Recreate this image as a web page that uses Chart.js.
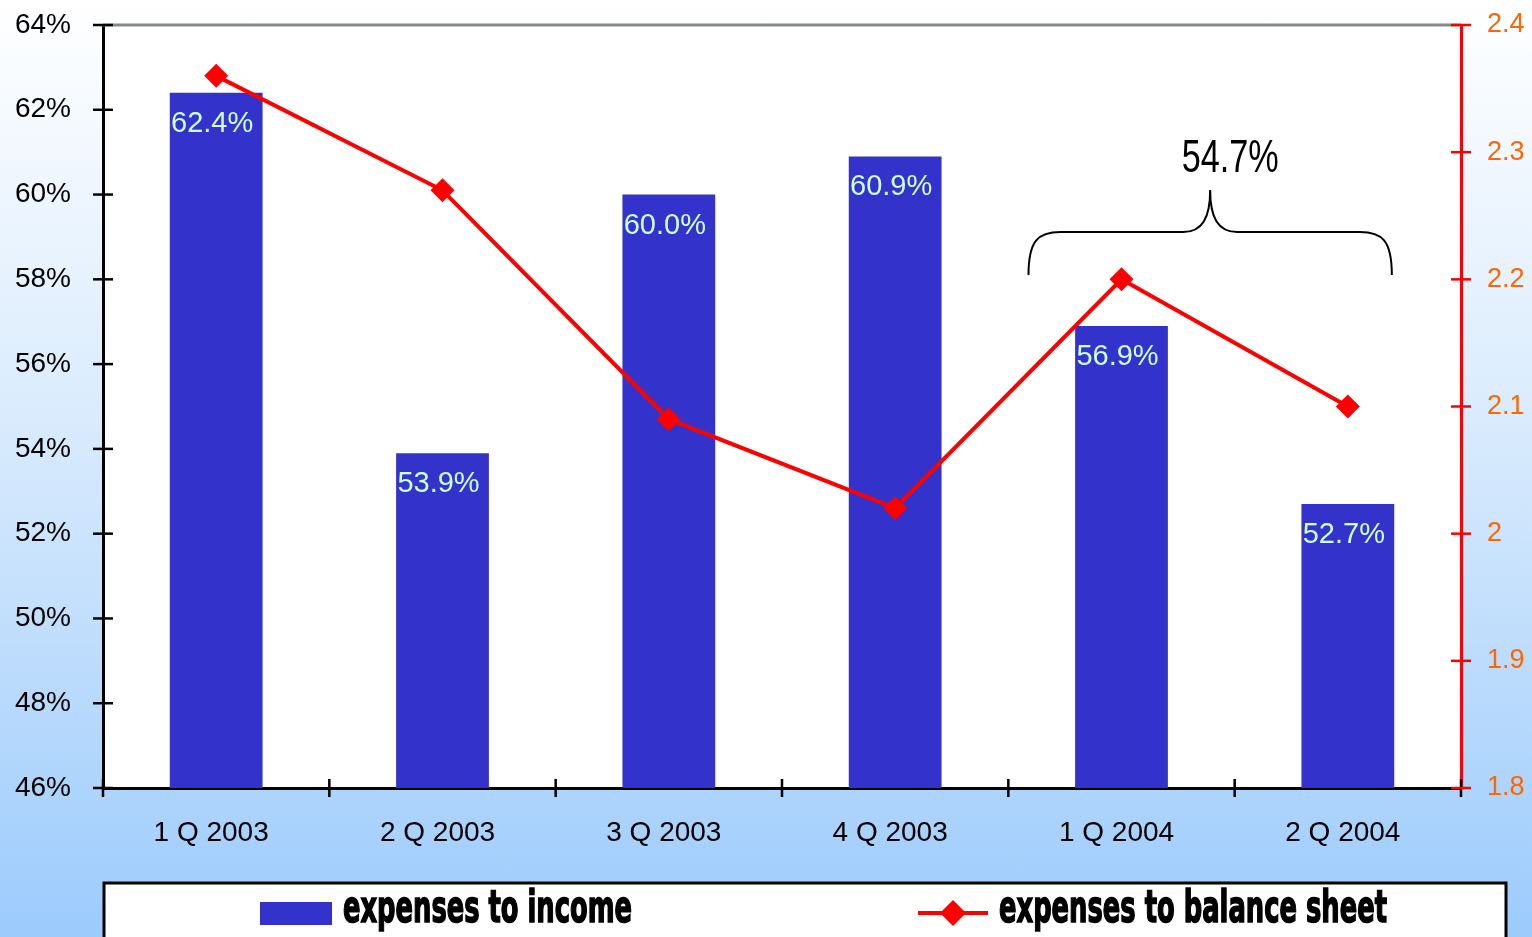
<!DOCTYPE html>
<html>
<head>
<meta charset="utf-8">
<style>
  html, body { margin: 0; padding: 0; overflow: hidden; }
  body { background: linear-gradient(to bottom, #ffffff 0%, #d9ebfd 45%, #9ccbfc 100%); }
  #wrap { position: relative; width: 1532px; height: 937px; }
</style>
</head>
<body>
<div id="wrap"><canvas id="costChart"></canvas></div>

<script src="https://cdn.jsdelivr.net/npm/chart.js"></script>
<script>
(() => {
  const quarters = ['1 Q 2003', '2 Q 2003', '3 Q 2003', '4 Q 2003', '1 Q 2004', '2 Q 2004'];
  const expensesToIncome = [62.4, 53.9, 60.0, 60.9, 56.9, 52.7];
  const expensesToBalance = [2.36, 2.27, 2.09, 2.02, 2.20, 2.10];
  const leftTicks = [46, 48, 50, 52, 54, 56, 58, 60, 62, 64];
  const rightTicks = [1.8, 1.9, 2.0, 2.1, 2.2, 2.3, 2.4];
  const braceText = '54.7%';
  const legendLabels = ['expenses to income', 'expenses to balance sheet'];

  const FONT = '"Liberation Sans", Arial, sans-serif';
  const BAR_BLUE = '#3333cc';
  const LINE_RED = '#ff0000';

  function diamond(ctx, x, y, r) {
    ctx.beginPath();
    ctx.moveTo(x - r, y);
    ctx.lineTo(x, y - r);
    ctx.lineTo(x + r, y);
    ctx.lineTo(x, y + r);
    ctx.closePath();
    ctx.fill();
  }

  function noPadding(scale) {
    scale.paddingTop = 0;
    scale.paddingBottom = 0;
    scale.paddingLeft = 0;
    scale.paddingRight = 0;
  }

  const decorations = {
    id: 'decorations',
    beforeDraw(chart) {
      const { ctx, chartArea: a } = chart;
      ctx.save();
      ctx.fillStyle = '#ffffff';
      ctx.fillRect(a.left, a.top, a.right - a.left, a.bottom - a.top);
      ctx.restore();
    },
    afterDatasetsDraw(chart) {
      const { ctx } = chart;
      const meta = chart.getDatasetMeta(1);
      ctx.save();
      ctx.fillStyle = '#ccffff';
      ctx.font = '29px ' + FONT;
      ctx.textAlign = 'center';
      ctx.textBaseline = 'middle';
      meta.data.forEach((bar, i) => {
        ctx.fillText(expensesToIncome[i].toFixed(1) + '%', bar.x - 4, bar.y + 31);
      });
      ctx.restore();
    },
    afterDraw(chart) {
      const { ctx, chartArea: a, scales } = chart;
      ctx.save();

      // top frame line
      ctx.strokeStyle = '#888888';
      ctx.lineWidth = 3;
      ctx.beginPath();
      ctx.moveTo(a.left, a.top);
      ctx.lineTo(a.right, a.top);
      ctx.stroke();

      // tick marks crossing the axes
      ctx.lineWidth = 2.5;
      ctx.strokeStyle = '#000000';
      leftTicks.forEach(v => {
        const y = scales.y.getPixelForValue(v);
        ctx.beginPath();
        ctx.moveTo(a.left - 10, y);
        ctx.lineTo(a.left + 10, y);
        ctx.stroke();
      });
      const step = (a.right - a.left) / quarters.length;
      for (let k = 0; k <= quarters.length; k++) {
        const x = a.left + k * step;
        ctx.beginPath();
        ctx.moveTo(x, a.bottom - 9);
        ctx.lineTo(x, a.bottom + 9);
        ctx.stroke();
      }
      ctx.strokeStyle = LINE_RED;
      rightTicks.forEach(v => {
        const y = scales.y1.getPixelForValue(v);
        ctx.beginPath();
        ctx.moveTo(a.right - 10, y);
        ctx.lineTo(a.right + 10, y);
        ctx.stroke();
      });

      // brace over the 2004 quarters
      const x4 = scales.x.getPixelForValue(4);
      const x5 = scales.x.getPixelForValue(5);
      const L = x4 - 93, R = x5 + 44, M = (L + R) / 2;
      const yEnd = 275, yBar = 232, yTip = 190;
      ctx.strokeStyle = '#000000';
      ctx.lineWidth = 2;
      ctx.beginPath();
      ctx.moveTo(L, yEnd);
      ctx.bezierCurveTo(L, yBar + 8, L + 10, yBar, L + 32, yBar);
      ctx.lineTo(M - 27, yBar);
      ctx.bezierCurveTo(M - 8, yBar, M, yBar - 14, M, yTip);
      ctx.bezierCurveTo(M, yBar - 14, M + 8, yBar, M + 27, yBar);
      ctx.lineTo(R - 32, yBar);
      ctx.bezierCurveTo(R - 10, yBar, R, yBar + 8, R, yEnd);
      ctx.stroke();

      ctx.fillStyle = '#000000';
      ctx.font = '46px "Liberation Sans Narrow", ' + FONT;
      ctx.textAlign = 'center';
      ctx.textBaseline = 'alphabetic';
      ctx.fillText(braceText, M + 20, 172, 97);

      // legend box
      ctx.fillStyle = '#ffffff';
      ctx.fillRect(104, 883, 1402, 80);
      ctx.strokeStyle = '#000000';
      ctx.lineWidth = 3;
      ctx.strokeRect(104, 883, 1402, 80);

      ctx.fillStyle = BAR_BLUE;
      ctx.fillRect(260, 902, 72, 23);

      ctx.strokeStyle = LINE_RED;
      ctx.lineWidth = 4;
      ctx.beginPath();
      ctx.moveTo(918, 913);
      ctx.lineTo(988, 913);
      ctx.stroke();
      ctx.fillStyle = LINE_RED;
      diamond(ctx, 953, 913, 13);

      ctx.fillStyle = '#000000';
      ctx.strokeStyle = '#000000';
      ctx.lineWidth = 1.5;
      ctx.textAlign = 'left';
      ctx.font = 'bold 44px "DejaVu Sans Condensed", "DejaVu Sans", sans-serif';
      ctx.fillText(legendLabels[0], 343, 922, 289);
      ctx.strokeText(legendLabels[0], 343, 922, 289);
      ctx.fillText(legendLabels[1], 999, 922, 388);
      ctx.strokeText(legendLabels[1], 999, 922, 388);

      ctx.restore();
    }
  };

  new Chart(document.getElementById('costChart'), {
    data: {
      labels: quarters,
      datasets: [
        {
          type: 'line',
          label: legendLabels[1],
          data: expensesToBalance,
          yAxisID: 'y1',
          order: 0,
          borderColor: LINE_RED,
          backgroundColor: LINE_RED,
          borderWidth: 4,
          pointStyle: 'rectRot',
          pointRadius: 12,
          pointBorderWidth: 0,
          tension: 0
        },
        {
          type: 'bar',
          label: legendLabels[0],
          data: expensesToIncome,
          yAxisID: 'y',
          order: 1,
          backgroundColor: BAR_BLUE,
          categoryPercentage: 1,
          barPercentage: 0.41
        }
      ]
    },
    options: {
      responsive: true,
      maintainAspectRatio: false,
      animation: false,
      layout: { padding: { top: 25, left: 0, right: 0, bottom: 0 } },
      plugins: {
        legend: { display: false },
        tooltip: { enabled: false }
      },
      scales: {
        x: {
          grid: { display: false },
          border: { display: true, color: '#000000', width: 3 },
          ticks: { color: '#000000', font: { family: FONT, size: 28 }, padding: 20, labelOffset: -5, maxRotation: 0 },
          afterFit(scale) { scale.height = 149; noPadding(scale); }
        },
        y: {
          position: 'left',
          min: 46,
          max: 64,
          afterBuildTicks(scale) { scale.ticks = leftTicks.map(v => ({ value: v })); },
          grid: { display: false },
          border: { display: true, color: '#000000', width: 3 },
          ticks: {
            color: '#000000',
            font: { family: FONT, size: 28 },
            padding: 24,
            callback: v => v + '%'
          },
          afterFit(scale) { scale.width = 103; noPadding(scale); }
        },
        y1: {
          position: 'right',
          min: 1.8,
          max: 2.4,
          afterBuildTicks(scale) { scale.ticks = rightTicks.map(v => ({ value: v })); },
          grid: { display: false },
          border: { display: true, color: LINE_RED, width: 3 },
          ticks: {
            color: '#ff6600',
            font: { family: FONT, size: 27 },
            padding: 18,
            callback: v => String(Math.round(v * 10) / 10)
          },
          afterFit(scale) { scale.width = 71; noPadding(scale); }
        }
      }
    },
    plugins: [decorations]
  });
})();
</script>
</body>
</html>
